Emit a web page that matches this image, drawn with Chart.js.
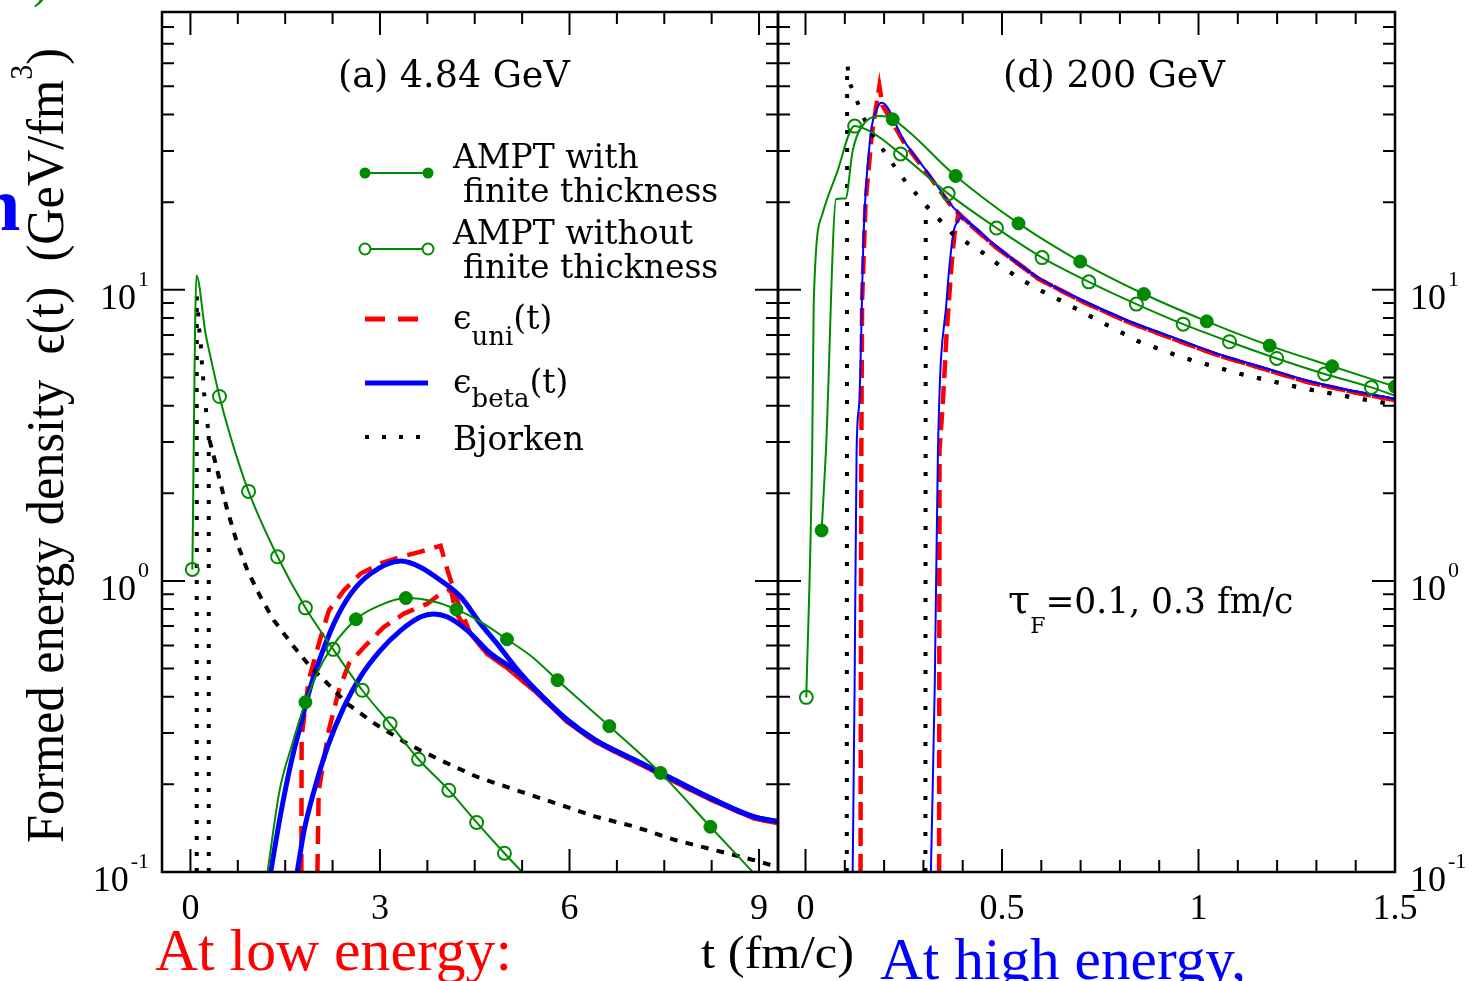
<!DOCTYPE html>
<html>
<head>
<meta charset="utf-8">
<title>Formed energy density</title>
<script src="https://cdn.jsdelivr.net/npm/chart.js@4.4.1/dist/chart.umd.min.js"></script>
<style>
  html, body { margin: 0; padding: 0; background: #fff; }
  body { width: 1472px; height: 981px; position: relative; overflow: hidden; }
  canvas { position: absolute; top: 0; }
  #left { left: 0; }
  #right { left: 776px; }
  svg { position: absolute; left: 0; top: 0; pointer-events: none; }
  svg text { white-space: pre; }
</style>
</head>
<body>
<canvas id="left" width="780" height="981"></canvas>
<canvas id="right" width="696" height="981"></canvas>
<svg width="1472" height="981" viewBox="0 0 1472 981">
  <!-- cut-off pieces at the page edge -->
  <text x="33" y="-3" font-family="Liberation Serif" font-size="48" fill="#008b00">)</text>
  <text x="-22" y="230" font-family="Liberation Serif" font-weight="bold" font-size="76" fill="#0000ff">n</text>

  <!-- y axis title -->
  <text transform="translate(63,843) rotate(-90)" font-family="Liberation Serif" font-size="52" textLength="795" lengthAdjust="spacingAndGlyphs">Formed energy density  ϵ(t)  (GeV/fm<tspan font-size="31" dy="-31">3</tspan><tspan font-size="52" dy="31">)</tspan></text>

  <!-- panel titles -->
  <text x="338" y="87" font-family="DejaVu Serif" font-size="36.5">(a) 4.84 GeV</text>
  <text x="1003" y="87" font-family="DejaVu Serif" font-size="36.5">(d) 200 GeV</text>
  <text x="1008" y="613" font-family="DejaVu Serif" font-size="40">τ<tspan font-size="22" dy="20">F</tspan><tspan font-size="34.5" dy="-20">=0.1, 0.3 fm/c</tspan></text>

  <!-- legend text -->
  <g font-family="DejaVu Serif" font-size="33">
    <text x="453" y="168">AMPT with</text>
    <text x="463" y="202">finite thickness</text>
    <text x="453" y="244">AMPT without</text>
    <text x="463" y="278">finite thickness</text>
    <text x="453" y="329">ϵ<tspan font-size="26" dy="16">uni</tspan><tspan font-size="33" dy="-16">(t)</tspan></text>
    <text x="453" y="393">ϵ<tspan font-size="26" dy="14">beta</tspan><tspan font-size="33" dy="-14">(t)</tspan></text>
    <text x="453" y="450">Bjorken</text>
  </g>

  <!-- bottom captions -->
  <text x="155" y="970" font-family="Liberation Serif" font-size="60" fill="#ff0000" textLength="357" lengthAdjust="spacingAndGlyphs">At low energy:</text>
  <text x="701" y="968" font-family="Liberation Serif" font-size="46" textLength="153" lengthAdjust="spacingAndGlyphs">t (fm/c)</text>
  <text x="880" y="979" font-family="Liberation Serif" font-size="60" fill="#0000ff" textLength="366" lengthAdjust="spacingAndGlyphs">At high energy,</text>
</svg>
<script>
// ---- (a) 4.84 GeV ----
const aWithT = [1.22, 1.41, 1.6, 1.82, 2.11, 2.62, 3.01, 3.41, 3.85, 4.21, 4.6, 5.01, 5.41, 5.81, 6.63, 7.44, 8.23, 8.91];
const aWithE = [0.1, 0.19, 0.27, 0.383, 0.534, 0.738, 0.826, 0.873, 0.85, 0.798, 0.722, 0.63, 0.548, 0.456, 0.317, 0.219, 0.143, 0.0995];
const aWithMark = [0, 0, 0, 1, 0, 1, 0, 1, 0, 1, 0, 1, 0, 1, 1, 1, 1, 0];

const aWithoutT = [0.03, 0.095, 0.24, 0.32, 0.46, 0.64, 0.92, 1.38, 1.82, 2.26, 2.72, 3.16, 3.61, 4.09, 4.53, 4.97, 5.26];
const aWithoutE = [1.095, 11.2, 7.06, 5.85, 4.3, 3.1, 2.03, 1.21, 0.808, 0.582, 0.421, 0.323, 0.244, 0.191, 0.148, 0.116, 0.0995];
const aWithoutMark = [1, 0, 0, 0, 1, 0, 1, 1, 1, 1, 1, 1, 1, 1, 1, 1, 0];

const aUniAT = [1.756, 1.76, 1.872, 2.062, 2.193, 2.43, 2.695, 3.01, 3.33, 3.62, 3.96, 4.07, 4.17, 4.28, 4.43, 4.7, 5.0, 5.47, 5.97, 6.41, 7.04, 7.66, 8.29, 8.91, 9.3];
const aUniAE = [0.1, 0.291, 0.456, 0.641, 0.792, 0.928, 1.06, 1.148, 1.21, 1.255, 1.32, 1.086, 0.928, 0.792, 0.66, 0.56, 0.505, 0.415, 0.327, 0.28, 0.239, 0.204, 0.175, 0.153, 0.147];
const aUniBT = [2.01, 2.03, 2.19, 2.35, 2.51, 2.75, 3.06, 3.38, 3.75, 3.96, 4.12, 4.2, 4.3, 4.43, 4.7, 5.0, 5.47, 5.97, 6.41, 7.04, 7.66, 8.29, 8.91, 9.3];
const aUniBE = [0.1, 0.19, 0.307, 0.421, 0.52, 0.593, 0.694, 0.772, 0.835, 0.904, 0.935, 0.78, 0.72, 0.66, 0.56, 0.505, 0.415, 0.327, 0.28, 0.239, 0.204, 0.175, 0.153, 0.147];

const aBetaAT = [1.27, 1.43, 1.59, 1.75, 1.9, 2.06, 2.27, 2.54, 2.85, 3.33, 3.64, 3.96, 4.28, 4.59, 4.85, 5.16, 5.47, 5.97, 6.41, 7.04, 7.66, 8.29, 8.91, 9.3];
const aBetaAE = [0.1, 0.159, 0.236, 0.324, 0.432, 0.548, 0.713, 0.904, 1.058, 1.17, 1.115, 1.004, 0.88, 0.713, 0.61, 0.5, 0.421, 0.332, 0.284, 0.242, 0.207, 0.177, 0.155, 0.149];
const aBetaBT = [1.69, 1.8, 1.96, 2.17, 2.43, 2.69, 3.01, 3.33, 3.64, 3.85, 4.07, 4.38, 4.75, 5.16, 5.47, 5.97, 6.41, 7.04, 7.66, 8.29, 8.91, 9.3];
const aBetaBE = [0.1, 0.139, 0.191, 0.269, 0.369, 0.468, 0.578, 0.676, 0.751, 0.77, 0.751, 0.676, 0.563, 0.49, 0.421, 0.332, 0.284, 0.242, 0.207, 0.177, 0.155, 0.149];

const aBjAT = [0.1, 0.1, 0.12, 0.136, 0.163, 0.179, 0.2, 0.215, 0.242, 0.269, 0.305, 0.373, 0.479, 0.585, 0.744, 0.902, 1.11, 1.32, 1.64, 1.9, 2.17, 2.48, 2.91, 3.43, 3.96, 4.54, 5.16, 5.79, 6.41, 7.04, 7.66, 8.29, 8.91, 9.3];
const aBjAE = [0.1, 9.5, 8.47, 7.42, 6.51, 5.71, 5.0, 4.44, 3.95, 3.46, 3.03, 2.66, 2.15, 1.745, 1.34, 1.086, 0.88, 0.732, 0.593, 0.506, 0.444, 0.379, 0.324, 0.276, 0.242, 0.212, 0.191, 0.172, 0.155, 0.143, 0.129, 0.119, 0.11, 0.104];
const aBjBT = [0.29, 0.29, 0.305, 0.373, 0.479, 0.585, 0.744, 0.902, 1.11, 1.32, 1.64, 1.9, 2.17, 2.48, 2.91, 3.43, 3.96, 4.54, 5.16, 5.79, 6.41, 7.04, 7.66, 8.29, 8.91, 9.3];
const aBjBE = [0.1, 3.2, 3.03, 2.66, 2.15, 1.745, 1.34, 1.086, 0.88, 0.732, 0.593, 0.506, 0.444, 0.379, 0.324, 0.276, 0.242, 0.212, 0.191, 0.172, 0.155, 0.143, 0.129, 0.119, 0.11, 0.104];

// ---- (d) 200 GeV ----
const dWithT = [0.041, 0.052, 0.078, 0.102, 0.12, 0.148, 0.194, 0.222, 0.382, 0.542, 0.699, 0.861, 1.021, 1.181, 1.34, 1.5];
const dWithE = [1.49, 2.8, 20.5, 20.6, 30, 37.1, 39.5, 38.5, 24.6, 16.9, 12.5, 9.67, 7.79, 6.43, 5.46, 4.65];
const dWithMark = [1, 0, 0, 0, 0, 0, 0, 1, 1, 1, 1, 1, 1, 1, 1, 1];

const dWithoutT = [0.002, 0.017, 0.021, 0.043, 0.079, 0.125, 0.171, 0.242, 0.363, 0.486, 0.602, 0.721, 0.842, 0.961, 1.079, 1.199, 1.321, 1.44, 1.5];
const dWithoutE = [0.398, 2.8, 9.17, 18.2, 25.0, 36.5, 34.6, 29.3, 21.4, 16.3, 12.9, 10.65, 8.93, 7.62, 6.63, 5.81, 5.14, 4.62, 4.33];
const dWithoutMark = [1, 0, 0, 0, 0, 1, 0, 1, 1, 1, 1, 1, 1, 1, 1, 1, 1, 1, 0];

const dUniAT = [0.14, 0.142, 0.144, 0.153, 0.169, 0.188, 0.196, 0.251, 0.308, 0.376, 0.479, 0.593, 0.707, 0.821, 0.935, 1.049, 1.164, 1.278, 1.391, 1.5];
const dUniAE = [0.1, 2.8, 9.17, 20.2, 34.3, 50.1, 43.0, 32.0, 25.3, 19.0, 14.2, 10.9, 9.08, 7.75, 6.79, 5.96, 5.36, 4.82, 4.46, 4.18];
const dUniBT = [0.34, 0.341, 0.35, 0.359, 0.371, 0.379, 0.386, 0.389, 0.4, 0.479, 0.593, 0.707, 0.821, 0.935, 1.049, 1.164, 1.278, 1.391, 1.5];
const dUniBE = [0.1, 2.8, 4.2, 7.05, 11.9, 15.5, 17.2, 18.3, 17.6, 14.2, 10.9, 9.08, 7.75, 6.79, 5.96, 5.36, 4.82, 4.46, 4.18];

const dBetaAT = [0.12, 0.125, 0.13, 0.137, 0.148, 0.166, 0.183, 0.194, 0.251, 0.308, 0.376, 0.479, 0.593, 0.707, 0.821, 0.935, 1.049, 1.164, 1.278, 1.391, 1.5];
const dBetaAE = [0.1, 0.445, 2.8, 4.16, 15.6, 34.3, 42.2, 43.9, 32.4, 25.6, 19.2, 14.35, 11.0, 9.17, 7.83, 6.86, 6.02, 5.41, 4.87, 4.5, 4.22];
const dBetaBT = [0.319, 0.329, 0.337, 0.359, 0.376, 0.388, 0.397, 0.411, 0.479, 0.593, 0.707, 0.821, 0.935, 1.049, 1.164, 1.278, 1.391, 1.5];
const dBetaBE = [0.1, 0.445, 2.8, 9.17, 15.6, 17.2, 17.7, 17.3, 14.35, 11.0, 9.17, 7.83, 6.86, 6.02, 5.41, 4.87, 4.5, 4.22];

const dBjAT = [0.105, 0.106, 0.114, 0.131, 0.148, 0.171, 0.217, 0.24, 0.268, 0.297, 0.319, 0.376, 0.445, 0.502, 0.582, 0.65, 0.73, 0.844, 0.958, 1.106, 1.255, 1.391, 1.5];
const dBjAE = [0.1, 59.5, 50.8, 44.5, 39.0, 34.0, 27.7, 24.9, 22.4, 20.2, 18.7, 15.5, 13.6, 11.9, 10.2, 9.17, 8.04, 6.68, 5.86, 5.14, 4.62, 4.27, 4.03];
const dBjBT = [0.305, 0.306, 0.319, 0.376, 0.445, 0.502, 0.582, 0.65, 0.73, 0.844, 0.958, 1.106, 1.255, 1.391, 1.5];
const dBjBE = [0.1, 19.4, 18.7, 15.5, 13.6, 11.9, 10.2, 9.17, 8.04, 6.68, 5.86, 5.14, 4.62, 4.27, 4.03];

// ---- axes ----
const aMajorX = [0, 3, 6, 9];
const aMinorX = [0.75, 1.5, 2.25, 3.75, 4.5, 5.25, 6.75, 7.5, 8.25];
const aLabelsX = ['0', '3', '6', '9'];
const dMajorX = [0, 0.5, 1, 1.5];
const dMinorX = [0.1, 0.2, 0.3, 0.4, 0.6, 0.7, 0.8, 0.9, 1.1, 1.2, 1.3, 1.4];
const dLabelsX = ['0', '0.5', '1', '1.5'];
const yMajor = [0.1, 1, 10];
const yMinor = [0.2, 0.3, 0.4, 0.5, 0.6, 0.7, 0.8, 0.9, 2, 3, 4, 5, 6, 7, 8, 9, 20, 30, 40, 50, 60, 70, 80];
const yExp = ['-1', '0', '1'];

const GREEN = '#008b00', RED = '#ff0000', BLUE = '#0000ff', BLACK = '#000000';

function pts(ts, es) {
    return ts.map((t, i) => ({ x: t, y: es[i] }));
}

function amptLine(ts, es, marks, filled) {
    return {
        data: pts(ts, es),
        borderColor: GREEN, borderWidth: 2,
        cubicInterpolationMode: 'monotone',
        pointRadius: marks.map(m => m ? 6.5 : 0),
        pointBackgroundColor: filled ? GREEN : 'rgba(0,0,0,0)',
        pointBorderColor: GREEN,
        pointBorderWidth: filled ? 1 : 2
    };
}

function plain(ts, es, color, width, dash, smooth) {
    return {
        data: pts(ts, es),
        borderColor: color, borderWidth: width, borderDash: dash,
        pointRadius: 0,
        cubicInterpolationMode: smooth ? 'monotone' : 'default',
        tension: 0,
        borderJoinStyle: smooth ? 'round' : 'miter'
    };
}

// frame, inward ticks and tick labels drawn from the chart's own scales
const frameAxes = {
    id: 'frameAxes',
    afterDatasetsDraw(chart, args, o) {
        const { ctx, chartArea: a } = chart;
        const xs = chart.scales.x, ys = chart.scales.y;
        ctx.save();
        ctx.strokeStyle = BLACK;
        ctx.lineWidth = 2;
        ctx.beginPath();
        const seg = (x1, y1, x2, y2) => { ctx.moveTo(x1, y1); ctx.lineTo(x2, y2); };
        o.majorX.forEach(v => { const p = xs.getPixelForValue(v); seg(p, a.bottom, p, a.bottom - 23); seg(p, a.top, p, a.top + 23); });
        o.minorX.forEach(v => { const p = xs.getPixelForValue(v); seg(p, a.bottom, p, a.bottom - 12); seg(p, a.top, p, a.top + 12); });
        yMajor.forEach(v => { const p = ys.getPixelForValue(v); seg(a.left, p, a.left + 23, p); seg(a.right, p, a.right - 23, p); });
        yMinor.forEach(v => { const p = ys.getPixelForValue(v); seg(a.left, p, a.left + 12, p); seg(a.right, p, a.right - 12, p); });
        ctx.stroke();
        ctx.lineWidth = 2.5;
        ctx.strokeRect(a.left, a.top, a.right - a.left, a.bottom - a.top);

        ctx.fillStyle = BLACK;
        ctx.textBaseline = 'alphabetic';
        ctx.font = '36px "Liberation Serif"';
        ctx.textAlign = 'center';
        o.majorX.forEach((v, i) => ctx.fillText(o.labelsX[i], xs.getPixelForValue(v), a.bottom + 47));

        ctx.textAlign = 'left';
        yMajor.forEach((v, i) => {
            const p = ys.getPixelForValue(v);
            ctx.font = '36px "Liberation Serif"';
            const wb = ctx.measureText('10').width;
            ctx.font = '22px "Liberation Serif"';
            const we = ctx.measureText(yExp[i]).width;
            const x0 = o.side === 'left' ? a.left - 13 - we - 2 - wb : a.right + 15;
            ctx.font = '36px "Liberation Serif"';
            ctx.fillText('10', x0, p + 19);
            ctx.font = '22px "Liberation Serif"';
            ctx.fillText(yExp[i], x0 + wb + 2, p - 4);
        });
        ctx.restore();
    }
};

// legend samples inside panel (a)
const legendSamples = {
    id: 'legendSamples',
    afterDatasetsDraw(chart) {
        const ctx = chart.ctx;
        ctx.save();
        const line = (x1, x2, y, color, w, dash) => {
            ctx.beginPath();
            ctx.strokeStyle = color; ctx.lineWidth = w; ctx.setLineDash(dash);
            ctx.moveTo(x1, y); ctx.lineTo(x2, y); ctx.stroke();
        };
        const dot = (x, y, filled) => {
            ctx.setLineDash([]);
            ctx.beginPath(); ctx.arc(x, y, 5.5, 0, Math.PI * 2);
            if (filled) { ctx.fillStyle = GREEN; ctx.fill(); }
            else { ctx.fillStyle = '#fff'; ctx.fill(); ctx.strokeStyle = GREEN; ctx.lineWidth = 2; ctx.stroke(); }
        };
        line(365, 428, 173, GREEN, 2, []); dot(365, 173, true); dot(428, 173, true);
        line(365, 428, 249, GREEN, 2, []); dot(365, 249, false); dot(428, 249, false);
        line(365, 419, 319, RED, 5, [20, 13]);
        line(365, 428, 383, BLUE, 5, []);
        line(365, 421, 437, BLACK, 4, [4, 13]);
        ctx.restore();
    }
};

function panel(id, pad, xr, sets, deco, extra) {
    return new Chart(document.getElementById(id), {
        type: 'line',
        data: { datasets: sets },
        options: {
            responsive: false, animation: false, devicePixelRatio: 1,
            layout: { padding: pad, autoPadding: false },
            plugins: { legend: { display: false }, tooltip: { enabled: false }, frameAxes: deco },
            scales: {
                x: { type: 'linear', min: xr[0], max: xr[1], display: false },
                y: { type: 'logarithmic', min: 0.1, max: 90, display: false }
            }
        },
        plugins: [frameAxes].concat(extra)
    });
}

panel('left', { left: 162, top: 12, right: 2, bottom: 109 }, [-0.45, 9.3], [
    amptLine(aWithT, aWithE, aWithMark, true),
    amptLine(aWithoutT, aWithoutE, aWithoutMark, false),
    plain(aBjAT, aBjAE, BLACK, 4, [4, 12], false),
    plain(aBjBT, aBjBE, BLACK, 4, [4, 12], false),
    plain(aBetaAT, aBetaAE, BLUE, 5, [], true),
    plain(aBetaBT, aBetaBE, BLUE, 5, [], true),
    plain(aUniAT, aUniAE, RED, 4.5, [18, 10], false),
    plain(aUniBT, aUniBE, RED, 4.5, [18, 10], false)
], { side: 'left', majorX: aMajorX, minorX: aMinorX, labelsX: aLabelsX }, [legendSamples]);

panel('right', { left: 2, top: 12, right: 77, bottom: 109 }, [-0.07, 1.5], [
    amptLine(dWithT, dWithE, dWithMark, true),
    amptLine(dWithoutT, dWithoutE, dWithoutMark, false),
    plain(dBjAT, dBjAE, BLACK, 4, [4, 14], false),
    plain(dBjBT, dBjBE, BLACK, 4, [4, 14], false),
    plain(dBetaAT, dBetaAE, BLUE, 2, [], true),
    plain(dBetaBT, dBetaBE, BLUE, 2, [], true),
    plain(dUniAT, dUniAE, RED, 4.5, [18, 8], false),
    plain(dUniBT, dUniBE, RED, 4.5, [18, 8], false)
], { side: 'right', majorX: dMajorX, minorX: dMinorX, labelsX: dLabelsX }, []);
</script>
</body>
</html>
